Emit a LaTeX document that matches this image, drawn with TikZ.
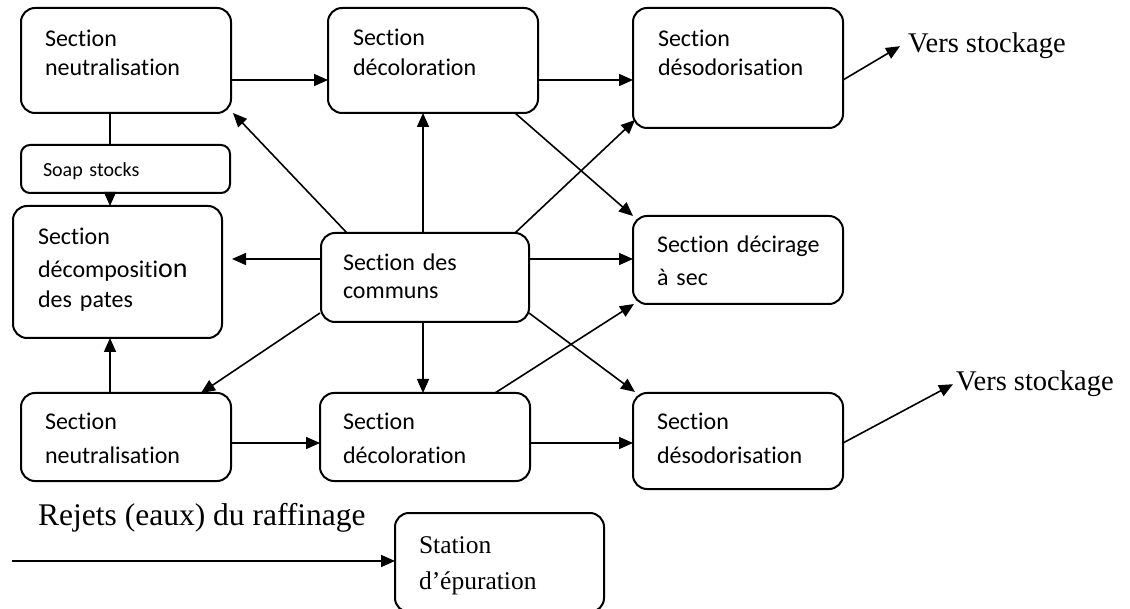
\documentclass[tikz,border=0pt]{standalone}
\usepackage{fontspec}
\newfontfamily\boxfont{Carlito}[Ligatures=NoCommon]
\newfontfamily\serifft{Liberation Serif}[Ligatures=NoCommon]
\usetikzlibrary{arrows.meta,calc}

\begin{document}
\begin{tikzpicture}[x=1pt,y=-1pt,
  % rounded process box; text starts at the top left
  sect/.style={draw, line width=2pt, rounded corners=14pt, anchor=north west,
    align=left, inner ysep=0pt, outer sep=0pt},
  % text width, first baseline from the top, remaining height, left/right padding, line spacing
  dims/.style n args={5}{text width=#1pt, text height=#2pt, text depth=#3pt,
    inner xsep=#4pt, font=\boxfont\fontsize{24}{#5}\selectfont},
  flow/.style={line width=1.6pt, -{Triangle[length=14pt,width=12pt]}},
  plain/.style={line width=1.6pt},
  note/.style={inner sep=0pt, anchor=base west, font=\serifft\fontsize{28.5}{34}\selectfont},
]
\useasboundingbox (0,0) rectangle (1130,609);

% first refining line
\node[sect, dims={162}{39}{66}{24}{29}] (n1) at (21,8) {Section\\neutralisation};
\node[sect, dims={160}{38}{67}{25}{30}] (d1) at (328,8) {Section\\décoloration};
\node[sect, dims={160}{39}{81}{25}{29}] (ds1) at (633,8) {Section\\désodorisation};

% soapstock treatment
\node[sect, rounded corners=9pt, dims={165}{32}{16}{22}{24}, font=\boxfont\fontsize{20}{24}\selectfont] (soap) at (21,145) {Soap stocks};
\node[sect, dims={159}{39}{93}{25}{30}] (dec) at (13,206)
  {Section\\[3pt]décompositi{\fontsize{28}{30}\selectfont on}\\des pates};

% shared utilities and dry dewaxing
\node[sect, dims={164}{38}{51}{22}{28}] (sc) at (321,233) {\mbox{Section des}\\communs};
\node[sect, dims={162}{37}{51}{24}{33}] (dc) at (633,216) {\mbox{Section décirage}\\à sec};

% second refining line
\node[sect, dims={162}{37}{51}{24}{33}] (n2) at (21,393) {Section\\neutralisation};
\node[sect, dims={164}{36}{52}{23}{34}] (d2) at (320,393) {Section\\décoloration};
\node[sect, dims={162}{37}{59}{24}{33}] (ds2) at (633,393) {Section\\désodorisation};

% waste water
\node[sect, dims={161}{40}{59}{24}{36}, font=\serifft\fontsize{25.5}{36}\selectfont] (st) at (395,513) {Station\\d’épuration};

% free labels
\node[note] (vs1) at (908,53) {Vers stockage};
\node[note] (vs2) at (956,391) {Vers stockage};
\node[note, font=\serifft\fontsize{31.5}{36}\selectfont] (rej) at (38,525) {Rejets (eaux) du raffinage};
\coordinate (src) at (12,561);

% first line flow
\draw[flow] ($(n1.east)+(0,19.5)$) -- ($(d1.west)+(0,19.5)$);
\draw[flow] ($(d1.east)+(0,19.5)$) -- ($(ds1.west)+(0,12)$);
\draw[flow] ($(ds1.east)+(0,12)$) -- ($(vs1.west)+(-8,0)$);

% soapstock path
\draw[plain] ($(n1.south)+(-16,0)$) -- ($(soap.north)+(-15.5,0)$);
\draw[flow] ($(soap.south)+(-15.5,0)$) -- ($(dec.north)+(-7.5,0)$);

% from the shared utilities
\draw[flow] ($(sc.north west)+(26,0)$) -- ($(n1.south east)+(2,0)$);
\draw[flow] ($(sc.north)+(-2,0)$) -- ($(d1.south)+(-10,0)$);
\draw[flow] ($(sc.north east)+(-14,0)$) -- ($(ds1.south west)+(2,-8)$);
\draw[flow] ($(sc.west)+(0,-18.5)$) -- ($(dec.east)+(10,-13)$);
\draw[flow] ($(sc.east)+(0,-18.5)$) -- ($(dc.west)+(0,-1)$);
\draw[flow] ($(sc.south west)+(-1,-9)$) -- ($(n2.north east)+(-30,0)$);
\draw[flow] ($(sc.south)+(-2,0)$) -- ($(d2.north)+(-2,0)$);
\draw[flow] ($(sc.south east)+(0,-9)$) -- ($(ds2.north west)+(2,-1)$);

% to dry dewaxing
\draw[flow] ($(d1.south east)+(-23,0)$) -- (dc.north west);
\draw[flow] ($(d2.north east)+(-35,0)$) -- ($(dc.south west)+(1,0)$);

% second line flow
\draw[flow] ($(n2.north)+(-16,0)$) -- ($(dec.south)+(-7.5,0)$);
\draw[flow] ($(n2.east)+(0,6)$) -- ($(d2.west)+(0,6)$);
\draw[flow] ($(d2.east)+(0,6)$) -- ($(ds2.west)+(0,2)$);
\draw[flow] ($(ds2.east)+(0,2)$) -- ($(vs2.west)+(-3,0)$);

% waste water to treatment
\draw[flow] (src) -- ($(st.west)+(0,-1.5)$);
\end{tikzpicture}
\end{document}
